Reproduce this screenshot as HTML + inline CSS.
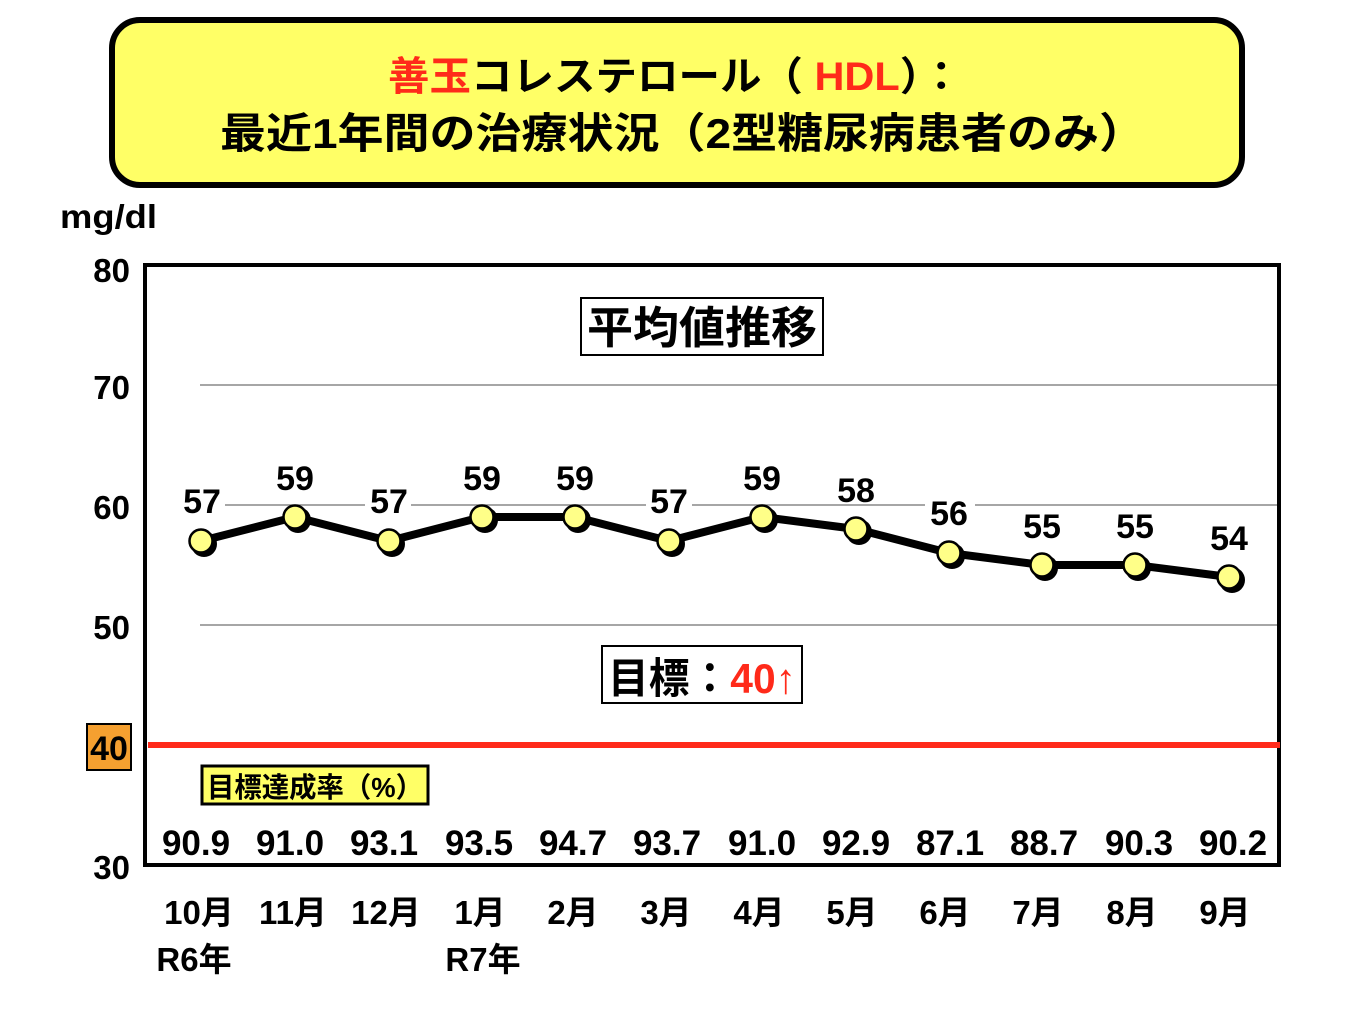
<!DOCTYPE html>
<html><head><meta charset="utf-8"><style>
html,body{margin:0;padding:0;background:#fff;}
svg{display:block;}
text{font-family:"Liberation Sans","Noto Sans CJK JP",sans-serif;font-weight:bold;}
</style></head><body>
<svg width="1365" height="1024" viewBox="0 0 1365 1024" xmlns="http://www.w3.org/2000/svg">
<rect x="112" y="20" width="1130" height="165" rx="28" fill="#ffff66" stroke="#000" stroke-width="6"/>
<text x="388" y="90" font-size="40" textLength="574" lengthAdjust="spacingAndGlyphs"><tspan fill="#ff2a1a">善玉</tspan>コレステロール（ <tspan fill="#ff2a1a">HDL</tspan>）：</text>
<text x="220" y="148" font-size="42" textLength="925" lengthAdjust="spacingAndGlyphs">最近1年間の治療状況（2型糖尿病患者のみ）</text>
<text x="60" y="228" font-size="33" textLength="97" lengthAdjust="spacingAndGlyphs">mg/dl</text>
<g stroke="#888" stroke-width="1.5">
<line x1="200" y1="385" x2="1280" y2="385"/>
<line x1="200" y1="505" x2="1280" y2="505"/>
<line x1="200" y1="625" x2="1280" y2="625"/>
</g>
<rect x="145" y="265" width="1134" height="600" fill="none" stroke="#000" stroke-width="4"/>
<g font-size="33" text-anchor="end">
<text x="130" y="282">80</text><text x="130" y="399">70</text><text x="130" y="519">60</text><text x="130" y="639">50</text><text x="130" y="879">30</text>
</g>
<rect x="87" y="724" width="44" height="46" fill="#f5a030" stroke="#000" stroke-width="2"/>
<text x="109" y="760" font-size="34" text-anchor="middle">40</text>
<line x1="148" y1="745" x2="1280" y2="745" stroke="#ff2a1a" stroke-width="6"/>
<rect x="581" y="298" width="242" height="57" fill="#fff" stroke="#000" stroke-width="2"/>
<text x="702" y="343" font-size="44" text-anchor="middle" textLength="230" lengthAdjust="spacingAndGlyphs">平均値推移</text>
<rect x="602" y="646" width="200" height="57" fill="#fff" stroke="#000" stroke-width="2"/>
<text x="608" y="693" font-size="42" textLength="188" lengthAdjust="spacingAndGlyphs">目標：<tspan fill="#ff2a1a">40↑</tspan></text>
<rect x="202" y="766" width="226" height="38" fill="#ffff66" stroke="#000" stroke-width="3"/>
<text x="315" y="797" font-size="28" text-anchor="middle" textLength="216" lengthAdjust="spacingAndGlyphs">目標達成率（%）</text>
<g fill="#fff">
<rect x="179" y="485" width="46" height="30"/>
<rect x="365" y="485" width="46" height="30"/>
<rect x="646" y="485" width="46" height="30"/>
<rect x="925" y="495" width="50" height="30"/>
</g>
<polyline points="201,541 295,517 389,541 482,517 575,517 669,541 762,517 856,529 949,553 1042,565 1135,565 1229,577" fill="none" stroke="#000" stroke-width="8" stroke-linejoin="round"/>
<g fill="#000">
<circle cx="204" cy="544" r="13"/><circle cx="298" cy="520" r="13"/><circle cx="392" cy="544" r="13"/><circle cx="485" cy="520" r="13"/><circle cx="578" cy="520" r="13"/><circle cx="672" cy="544" r="13"/><circle cx="765" cy="520" r="13"/><circle cx="859" cy="532" r="13"/><circle cx="952" cy="556" r="13"/><circle cx="1045" cy="568" r="13"/><circle cx="1138" cy="568" r="13"/><circle cx="1232" cy="580" r="13"/>
</g>
<g fill="#ffff88" stroke="#000" stroke-width="2.5">
<circle cx="201" cy="541" r="11.5"/><circle cx="295" cy="517" r="11.5"/><circle cx="389" cy="541" r="11.5"/><circle cx="482" cy="517" r="11.5"/><circle cx="575" cy="517" r="11.5"/><circle cx="669" cy="541" r="11.5"/><circle cx="762" cy="517" r="11.5"/><circle cx="856" cy="529" r="11.5"/><circle cx="949" cy="553" r="11.5"/><circle cx="1042" cy="565" r="11.5"/><circle cx="1135" cy="565" r="11.5"/><circle cx="1229" cy="577" r="11.5"/>
</g>
<g font-size="34" text-anchor="middle">
<text x="202" y="513">57</text><text x="295" y="490">59</text><text x="389" y="513">57</text><text x="482" y="490">59</text><text x="575" y="490">59</text><text x="669" y="513">57</text><text x="762" y="490">59</text><text x="856" y="502">58</text><text x="949" y="525">56</text><text x="1042" y="538">55</text><text x="1135" y="538">55</text><text x="1229" y="550">54</text>
</g>
<g font-size="35" text-anchor="middle">
<text x="196" y="855">90.9</text><text x="290" y="855">91.0</text><text x="384" y="855">93.1</text><text x="479" y="855">93.5</text><text x="573" y="855">94.7</text><text x="667" y="855">93.7</text><text x="762" y="855">91.0</text><text x="856" y="855">92.9</text><text x="950" y="855">87.1</text><text x="1044" y="855">88.7</text><text x="1139" y="855">90.3</text><text x="1233" y="855">90.2</text>
</g>
<g font-size="33" text-anchor="middle">
<text x="199" y="924">10月</text><text x="293" y="924">11月</text><text x="386" y="924">12月</text><text x="480" y="924">1月</text><text x="573" y="924">2月</text><text x="666" y="924">3月</text><text x="759" y="924">4月</text><text x="852" y="924">5月</text><text x="945" y="924">6月</text><text x="1038" y="924">7月</text><text x="1132" y="924">8月</text><text x="1225" y="924">9月</text>
<text x="194" y="971">R6年</text><text x="483" y="971">R7年</text>
</g>
</svg>
</body></html>
